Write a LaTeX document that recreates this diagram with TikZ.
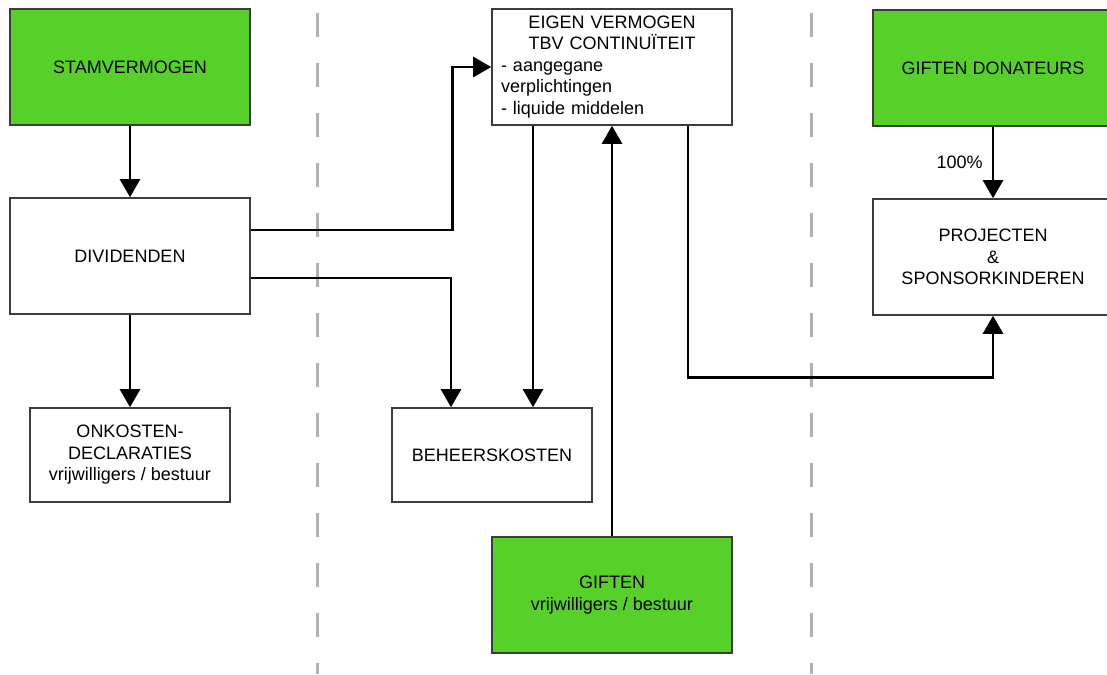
\documentclass[tikz,border=0pt]{standalone}
\usepackage{fontspec}
\setmainfont{Liberation Sans}
\usetikzlibrary{arrows.meta}
\definecolor{giftgroen}{RGB}{87,208,42}
\definecolor{randgrijs}{RGB}{60,60,60}
\tikzset{
  blok/.style={draw=randgrijs, line width=1.6pt, minimum width=240pt, minimum height=116pt, align=center, inner sep=0pt},
  groen/.style={blok, fill=giftgroen},
  klein/.style={blok, minimum width=200pt, minimum height=94pt},
  stroom/.style={-{Triangle[length=18pt,width=20pt]}, line width=2.8pt},
  scheiding/.style={draw=black!30, line width=3pt, dash pattern=on 24pt off 26pt}
}
\begin{document}
\begin{tikzpicture}[x=1pt,y=-1pt,font=\fontsize{18}{21.5}\selectfont]
\useasboundingbox (0,0) rectangle (1107,674);
\foreach \x in {317,811} \draw[scheiding] (\x,13) -- (\x,674);

\draw (130,67)  node (11) [groen] {STAMVERMOGEN};
\draw (130,256) node (21) [blok]  {DIVIDENDEN};
\draw (130,455) node (31) [klein] {ONKOSTEN-\\DECLARATIES\\vrijwilligers / bestuur};
\draw (11) -- (21) [stroom];
\draw (21) -- (31) [stroom];

\draw (612,67)  node (12) [blok, align=left, text width=222pt, inner xsep=9pt]
  {{\centering EIGEN VERMOGEN\\TBV CONTINUÏTEIT\par}\raggedright - aangegane\\verplichtingen\\- liquide middelen};
\draw (492,455) node (32) [klein] {BEHEERSKOSTEN};
\draw (612,595) node (42) [groen] {GIFTEN\\vrijwilligers / bestuur};
\draw[stroom] ([yshift=26pt]21.east) -| ([xshift=-39pt]12.west) -- (12.west);
\draw[stroom] ([yshift=-22pt]21.east) -| ([xshift=-41pt]32.north);
\draw[stroom] ([xshift=-79pt]12.south) -- ([xshift=41pt]32.north);
\draw[stroom] (42) -- (12);

\draw (993,68)  node (13) [groen] {GIFTEN DONATEURS};
\draw (993,257) node (23) [blok]  {PROJECTEN\\\&\\SPONSORKINDEREN};
\draw[stroom] (13) -- node[left, inner sep=9pt] {100\%} (23);
\draw[stroom] ([xshift=76pt]12.south) |- ([yshift=-62pt]23.south) -- (23.south);
\end{tikzpicture}
\end{document}
